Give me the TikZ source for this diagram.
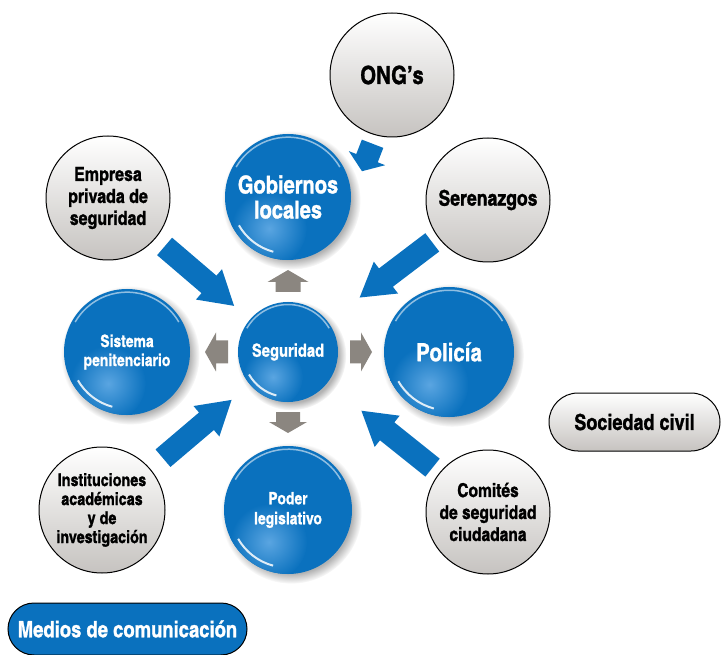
\documentclass[tikz,border=0pt]{standalone}
\usepackage{fontspec}
\setmainfont{TeX Gyre Heros Cn}
\newfontfamily\heavy{TeX Gyre Heros Cn}[BoldFeatures={FakeBold=1.2}]
\newfontfamily\semiheavy{TeX Gyre Heros Cn}[BoldFeatures={FakeBold=0.8}]
\usetikzlibrary{calc,shapes.misc,shadows}
\definecolor{blueM}{RGB}{10,113,190}
\definecolor{blueL}{RGB}{90,165,225}
\definecolor{arrowgray}{RGB}{139,134,128}
\definecolor{grayB}{RGB}{198,195,192}
% #1 style, #2 from, #3 to, #4 dist from start centre, #5 dist from end centre,
% #6 half body width, #7 head length, #8 half head width
\newcommand\blockarrow[8]{%
  \coordinate (bat) at ($(#2)!#4pt!(#3)$);
  \coordinate (bap) at ($(#3)!#5pt!(#2)$);
  \coordinate (ban) at ($(bap)!#7pt!(bat)$);
  \fill[#1] ($(bat)!#6pt!90:(bap)$) -- ($(ban)!#6pt!-90:(bat)$) -- ($(ban)!#8pt!-90:(bat)$)
    -- (bap) -- ($(ban)!#8pt!90:(bat)$) -- ($(ban)!#6pt!90:(bat)$) -- ($(bat)!#6pt!-90:(bap)$) -- cycle;
}
\begin{document}
\begin{tikzpicture}[x=1pt,y=-1pt,
  bluecirc/.style={circle, inner sep=0pt, minimum size=2*#1, fill=blueM, text=white, align=center,
    circular drop shadow={shadow xshift=3pt, shadow yshift=-3pt, opacity=0.3, fill=black},
    path picture={
      \coordinate (pc) at (path picture bounding box.center);
      \shade[inner color=blueL, outer color=blueM] ($(pc)+(-0.3*#1,0.5*#1)$) circle[radius=0.6*#1];
      \draw[white, opacity=0.55, line width=1.5pt] ($(pc)+(210:0.95*#1)$) arc[start angle=210, end angle=330, radius=0.95*#1];
      \draw[white, opacity=0.85, line width=2pt] ($(pc)+(105:0.9*#1)$) arc[start angle=105, end angle=150, radius=0.9*#1];
    }},
  graycirc/.style={circle, inner sep=0pt, minimum size=2*#1, draw=black, line width=1pt,
    top color=white, bottom color=grayB, align=center},
  pill/.style={rounded rectangle, draw=black, line width=1pt, inner sep=0pt},
]
\useasboundingbox (0,0) rectangle (721,655);

% blue circles
\node[bluecirc=63, font=\heavy\bfseries\fontsize{24.5}{25}\selectfont] (gob) at (288,197) {Gobiernos\\locales};
\node[bluecirc=50, font=\semiheavy\bfseries\fontsize{18}{20}\selectfont] (seg) at (288,352) {Seguridad};
\node[bluecirc=65, font=\semiheavy\bfseries\fontsize{25}{27}\selectfont] (pol) at (449,352) {Policía};
\node[bluecirc=63, font=\semiheavy\bfseries\fontsize{17}{19}\selectfont] (sis) at (127,352) {Sistema\\penitenciario};
\node[bluecirc=64, font=\semiheavy\bfseries\fontsize{17}{20}\selectfont] (pod) at (288,510) {Poder\\legislativo};

% gray circles
\node[graycirc=62, font=\heavy\bfseries\fontsize{25}{27}\selectfont] (ong) at (392,75) {ONG’s};
\node[graycirc=62, font=\heavy\bfseries\fontsize{19.5}{22}\selectfont] (emp) at (108,198) {Empresa\\privada de\\seguridad};
\node[graycirc=62, font=\heavy\bfseries\fontsize{21.5}{22}\selectfont] (ser) at (488,200) {Serenazgos};
\node[graycirc=63, font=\heavy\bfseries\fontsize{17.5}{19}\selectfont] (ins) at (102,510) {Instituciones\\académicas\\y de\\investigación};
\node[graycirc=62, font=\heavy\bfseries\fontsize{19}{22}\selectfont] (com) at (488,512) {Comités\\de seguridad\\ciudadana};

% pills
\node[pill, top color=white, bottom color=grayB, minimum width=171, minimum height=58,
  font=\heavy\bfseries\fontsize{22}{24}\selectfont] (soc) at (634.5,422) {Sociedad civil};
\node[pill, fill=blueM, text=white, minimum width=239, minimum height=52,
  font=\heavy\bfseries\fontsize{22.5}{24}\selectfont] (med) at (127.5,629) {Medios de comunicación};

% blue block arrows
\blockarrow{fill=blueM}{emp}{seg}{74.5}{71}{11.5}{33}{20}
\blockarrow{fill=blueM}{ser}{seg}{70}{90}{11.5}{33}{20}
\blockarrow{fill=blueM}{ins}{seg}{80}{74}{11.5}{33}{20}
\blockarrow{fill=blueM}{com}{seg}{71}{94}{11.5}{33}{20}
\blockarrow{fill=blueM}{ong.255}{gob.358}{9}{30}{11.5}{14}{19.5}

% gray block arrows
\blockarrow{fill=arrowgray}{seg}{gob}{60}{73}{12.5}{12}{20.5}
\blockarrow{fill=arrowgray}{seg}{pol}{62}{77}{11.5}{11}{19.5}
\blockarrow{fill=arrowgray}{seg}{sis}{60}{78}{11.5}{11}{19.5}
\blockarrow{fill=arrowgray}{seg}{pod}{60}{77}{12}{11}{19}
\end{tikzpicture}
\end{document}
